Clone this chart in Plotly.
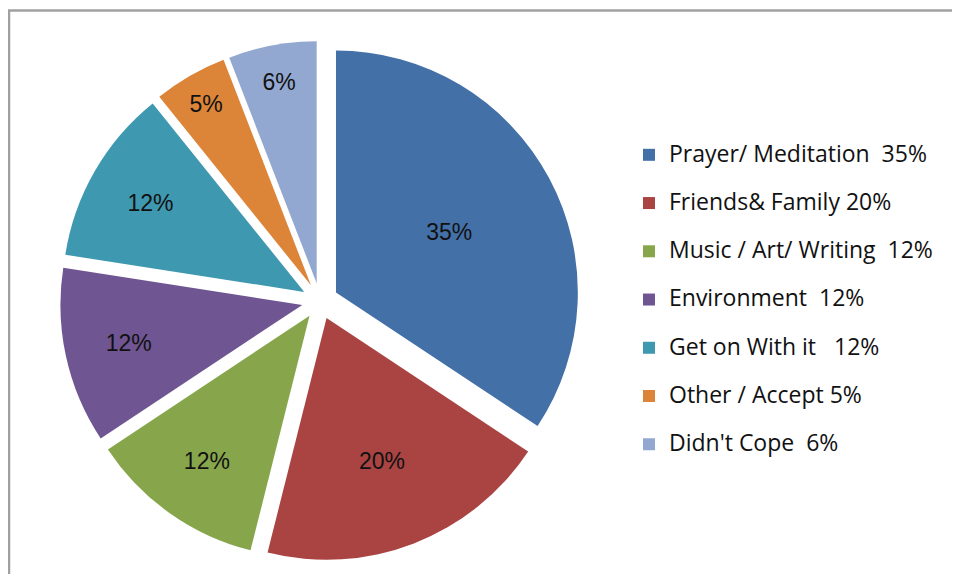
import plotly.graph_objects as go

categories = ["Prayer/ Meditation", "Friends & Family", "Music / Art/ Writing",
              "Environment", "Get on With it", "Other / Accept", "Didn't Cope"]
values = [35, 20, 12, 12, 12, 5, 6]
legend_labels = ["Prayer/ Meditation\u00a0\u00a035%", "Friends& Family\u00a020%",
                 "Music / Art/ Writing\u00a0\u00a012%", "Environment\u00a0\u00a012%",
                 "Get on With it\u00a0\u00a0\u00a012%", "Other / Accept\u00a05%",
                 "Didn't Cope\u00a0\u00a06%"]
colors = ["#4470A8", "#A94442", "#87A64C", "#6F5591", "#3E98B0", "#DC8539", "#93A8D0"]

# page body has an 8px margin, so the figure is sized to fit inside the 960x582 window
OFF = 8
W, H = 960 - 2 * OFF, 582 - 2 * OFF


def px(x):
    return (x - OFF) / W


def py(y):
    return 1 - (y - OFF) / H


fig = go.Figure(go.Pie(
    labels=["<span style='font-size:23px'>" + l + "</span><br>\u00a0" for l in legend_labels],
    values=values,
    sort=False,
    direction="clockwise",
    rotation=0,
    pull=[0.075] * len(values),
    marker=dict(colors=colors, line=dict(width=0)),
    texttemplate="%{value}%",
    textposition="inside",
    insidetextorientation="horizontal",
    textfont=dict(family="Liberation Sans, Arial, sans-serif", size=23, color="#111"),
    domain=dict(x=[px(60), px(580)], y=[py(561), py(41)]),
    hoverinfo="skip",
))

fig.update_layout(
    width=W, height=H,
    margin=dict(l=0, r=0, t=0, b=0),
    paper_bgcolor="white",
    showlegend=True,
    legend=dict(x=px(629), xanchor="left", y=py(137), yanchor="top",
                valign="top",
                font=dict(family="Open Sans, sans-serif", size=17.4, color="#111"),
                bgcolor="rgba(0,0,0,0)"),
    shapes=[
        dict(type="line", xref="paper", yref="paper", x0=0, x1=1.01,
             y0=py(10.5), y1=py(10.5), line=dict(color="#a0a0a0", width=2.5)),
        dict(type="line", xref="paper", yref="paper", x0=px(9), x1=px(9),
             y0=py(10.5), y1=-0.01, line=dict(color="#a0a0a0", width=2.5)),
    ],
)

fig.write_html("out.html")
